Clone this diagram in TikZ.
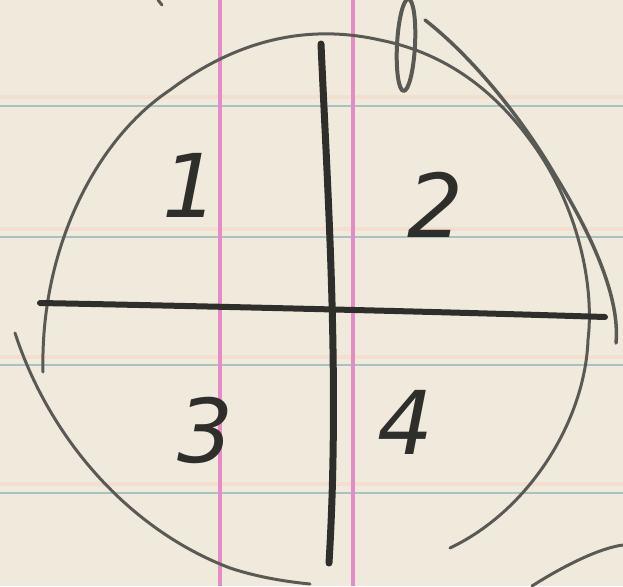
\documentclass[tikz,border=0pt]{standalone}
\usepackage{fontspec}
\setmainfont{DejaVu Sans}
\definecolor{paper}{HTML}{EFEADC}
\definecolor{rule}{HTML}{A8C2C0}
\definecolor{peach}{HTML}{F1DFD0}
\definecolor{margin}{HTML}{E58CC6}
\definecolor{pencil}{HTML}{5A5A55}
\definecolor{darkpencil}{HTML}{2E2E2B}
\tikzset{
  pencilline/.style={draw=pencil,line width=3pt,line cap=round,line join=round},
  heavyline/.style={draw=darkpencil,line width=7pt,line cap=round,line join=round},
  ruleline/.style={draw=rule,line width=2.2pt},
  peachline/.style={draw=peach,line width=4pt},
  marginline/.style={draw=margin,line width=3.5pt},
  digit/.style={text=darkpencil,font=\fontsize{88}{88}\selectfont\itshape,inner sep=0pt}
}
\begin{document}
\begin{tikzpicture}[x=1pt,y=-1pt]
\useasboundingbox (0,0) rectangle (623,586);
\fill[paper] (0,0) rectangle (623,586);
% ruled lines
\foreach \yy in {97,229,357,484} \draw[peachline] (0,\yy) -- (623,\yy);
\foreach \yy in {106,237,365,493} \draw[ruleline] (0,\yy) -- (623,\yy);
% margin lines
\draw[marginline] (220,0) -- (220,586);
\draw[marginline] (353,0) -- (353,586);
% circle strokes
\draw[pencilline] (43,372) .. controls (40,250) and (95,140) .. (170,90)
  .. controls (230,45) and (300,22) .. (380,40)
  .. controls (440,52) and (490,85) .. (530,140)
  .. controls (575,200) and (595,280) .. (588,340)
  .. controls (585,420) and (530,510) .. (450,548);
\draw[pencilline] (15,333) .. controls (50,440) and (130,530) .. (230,568)
  .. controls (260,578) and (290,582) .. (310,584);
% outer right stroke
\draw[pencilline,line width=3.5pt] (425,20) .. controls (470,55) and (520,115) .. (555,175)
  .. controls (595,240) and (620,300) .. (616,343);
% loop at top
\draw[pencilline,line width=4pt,rotate around={-3:(406,45)}] (406,45) ellipse (9 and 46);
% bottom-right stroke
\draw[pencilline] (532,586) .. controls (565,565) and (600,548) .. (623,545);
% small mark top
\draw[pencilline] (158,0) -- (162,5);
% cross
\coordinate (vt) at (321,44);
\coordinate (vb) at (329,563);
\coordinate (hl) at (40,303);
\coordinate (hr) at (605,317);
\draw[heavyline] (vt) .. controls (328,200) and (340,380) .. (vb);
\draw[heavyline,line width=6pt] (hl) .. controls (200,306) and (450,312) .. (hr);
% digits
\node[digit] (n1) at (190,185) {1};
\node[digit] (n2) at (435,205) {2};
\node[digit] (n3) at (205,430) {3};
\node[digit] (n4) at (405,422) {4};
\end{tikzpicture}
\end{document}
